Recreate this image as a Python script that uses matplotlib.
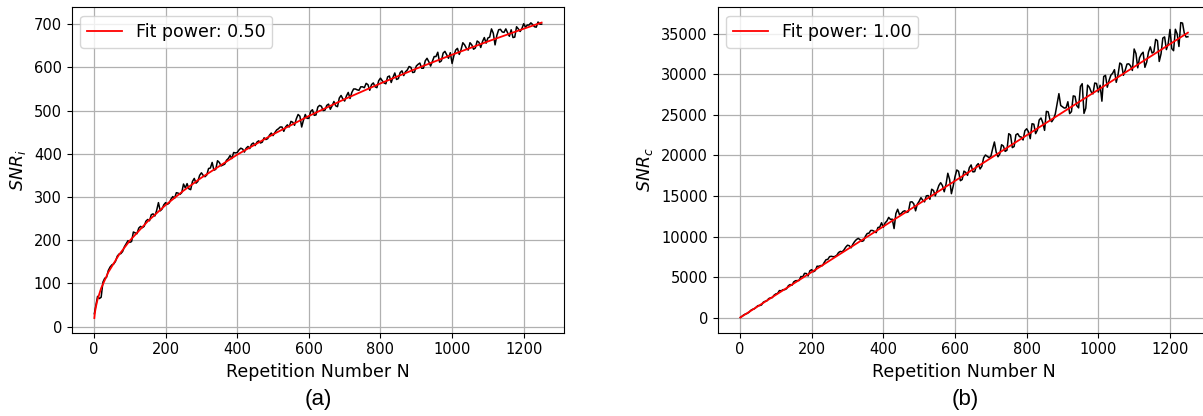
import matplotlib
matplotlib.use("Agg")
import matplotlib.pyplot as plt
import numpy as np

# ---------------- data ----------------
N_data = [1, 5] + list(range(10, 1251, 10))
N_mid = list(range(15, 1246, 10))

snr_i = [30, 48, 70, 68, 112, 130, 143, 151, 168, 174, 192, 195,
         219, 215, 232, 232, 248, 259, 256, 287, 272, 287,
         286, 301, 310, 306, 330, 331, 317, 343, 336, 356,
         347, 366, 380, 364, 380, 374, 385, 396, 403, 403,
         413, 404, 417, 422, 419, 430, 427, 433, 443, 442,
         455, 462, 452, 467, 475, 466, 491, 462, 491, 482,
         502, 490, 512, 500, 512, 503, 521, 509, 535, 522,
         542, 542, 550, 547, 555, 563, 547, 564, 553, 575,
         564, 578, 565, 587, 574, 592, 590, 602, 588, 603,
         610, 598, 621, 603, 625, 635, 615, 637, 621, 609,
         640, 630, 657, 644, 657, 642, 661, 646, 669, 668,
         689, 652, 687, 682, 689, 672, 669, 694, 683, 701,
         698, 703, 694, 705, 700]

snr_i_mid = [65, 103, 114, 138, 145, 163, 169, 185, 199, 197,
             217, 228, 229, 244, 245, 261, 269, 268, 282, 283,
             295, 297, 309, 310, 321, 319, 336, 332, 350, 350,
             351, 367, 362, 384, 372, 376, 389, 389, 402, 409,
             411, 413, 412, 425, 427, 425, 437, 435, 448, 449,
             458, 462, 462, 462, 473, 481, 487, 478, 482, 498,
             489, 508, 510, 501, 515, 511, 511, 529, 527, 534,
             528, 550, 548, 555, 553, 560, 560, 555, 569, 569,
             562, 580, 577, 572, 588, 581, 594, 600, 589, 607,
             598, 615, 613, 614, 625, 612, 633, 629, 634, 627,
             644, 641, 652, 640, 652, 645, 658, 660, 656, 670,
             679, 674, 688, 681, 680, 687, 670, 689, 690, 693,
             698, 699, 693, 700]

snr_c = [30, 150, 330, 520, 900, 1090, 1485, 1566, 2017, 2348, 2469, 2930,
         3341, 3452, 3573, 4084, 4415, 4576, 5077, 5458, 5139, 5920,
         5801, 6332, 6413, 7144, 7525, 7506, 7687, 8168, 8349, 8930,
         8611, 9392, 9773, 9404, 10035, 10416, 10747, 10478, 11159, 11140,
         11921, 12102, 10983, 13364, 12845, 13176, 13057, 14288, 13169, 14350,
         14481, 15012, 14593, 15674, 15655, 16636, 15517, 17798, 15279, 17360,
         18041, 17022, 17903, 18484, 17965, 18746, 18327, 19708, 19889, 19870,
         21651, 19832, 21313, 20494, 22675, 20956, 22537, 22318, 21899, 23280,
         22061, 23842, 23123, 24604, 23085, 25366, 24147, 25128, 27609, 25990,
         25871, 25152, 27333, 26114, 28495, 25176, 28657, 27838, 28919, 27800,
         26681, 29862, 29243, 30124, 29005, 31386, 29867, 31248, 31029, 33110,
         30791, 32472, 30853, 32734, 32615, 34296, 31577, 34458, 33039, 35520,
         32901, 34982, 36363, 35044, 34625]

snr_c_mid = [450, 660, 1030, 1280, 1495, 1906, 2077, 2448, 2769, 2990,
             3311, 3452, 3943, 3994, 4555, 4586, 5017, 5448, 5779, 5660,
             6341, 6422, 6803, 7184, 7565, 7546, 8027, 8108, 8689, 8870,
             9051, 9632, 9613, 9494, 10375, 10756, 10637, 11118, 11699, 11680,
             12361, 12142, 12823, 12704, 13085, 12966, 14247, 14028, 14009, 14790,
             14271, 15052, 15833, 15014, 16295, 16276, 16457, 17038, 16219, 18200,
             16881, 18062, 17543, 18824, 18005, 18986, 18667, 20048, 19729, 20810,
             20391, 20172, 21153, 20634, 22515, 21096, 22677, 22258, 23039, 22920,
             23901, 22682, 24363, 24044, 25425, 24406, 24487, 26368, 26149, 25830,
             26611, 25392, 27273, 25854, 28835, 25816, 28397, 27578, 28859, 28640,
             29721, 28402, 29883, 30564, 29945, 31226, 30507, 31288, 30469, 32550,
             32031, 32712, 31493, 33374, 32755, 34136, 32517, 34598, 33779, 33160,
             35541, 33422, 36303, 34584]

N_fit_a = [1, 2, 3, 5, 10, 20, 40, 70, 100, 150, 200, 250, 300, 400,
           500, 600, 700, 800, 900, 1000, 1100, 1200, 1250]
fit_a = [19.9, 28.1, 34.5, 44.5, 62.9, 89.0, 125.9, 166.5, 199.0, 243.7,
         281.4, 314.7, 344.7, 398.0, 445.0, 487.5, 526.5, 562.9, 597.0,
         629.3, 660.0, 689.4, 703.6]

N_fit_c = [1, 1250]
fit_c = [28, 35125]

labels_fit = ["Fit power: 0.50", "Fit power: 1.00"]
ylabels = ["$SNR_i$", "$SNR_c$"]
xlabel = "Repetition Number N"
panel_tags = ["(a)", "(b)"]


def merged(n1, y1, n2, y2):
    n = np.array(list(n1) + list(n2), dtype=float)
    y = np.array(list(y1) + list(y2), dtype=float)
    order = np.argsort(n, kind="stable")
    return n[order], y[order]


# ---------------- plot ----------------
plt.rcParams['font.family'] = ['DejaVu Sans']
W, H = 1203, 416
fig = plt.figure(figsize=(W / 100, H / 100), dpi=100)

ax1 = fig.add_axes([71.6 / W, (H - 332.7) / H, 492.4 / W, 325.4 / H])
ax2 = fig.add_axes([717.6 / W, (H - 332.7) / H, 492.7 / W, 325.4 / H])

series = [(ax1, merged(N_data, snr_i, N_mid, snr_i_mid), N_fit_a, fit_a, (-14, 739)),
          (ax2, merged(N_data, snr_c, N_mid, snr_c_mid), N_fit_c, fit_c, (-1850, 38250))]

for i, (ax, (nx, y), nf, yf, ylim) in enumerate(series):
    ax.plot(nx, y, color='black', lw=1.1, zorder=2)
    ax.plot(nf, yf, color='red', lw=1.3, label=labels_fit[i], zorder=3)
    ax.set_xlim(-62.5, 1312.5)
    ax.set_ylim(*ylim)
    ax.set_xticks([0, 200, 400, 600, 800, 1000, 1200])
    ax.grid(True, color='#b0b0b0', lw=0.9)
    ax.set_axisbelow(True)
    ax.tick_params(labelsize=10.5)
    ax.set_xlabel(xlabel, fontsize=12.5)
    ax.set_ylabel(ylabels[i], fontsize=12.5)
    ax.legend(loc='upper left', fontsize=12.5, handlelength=2.0)

fig.text(318 / W, 1 - 400 / H, panel_tags[0], ha='center', va='center',
         fontsize=16, family=['Liberation Sans'])
fig.text(965 / W, 1 - 400 / H, panel_tags[1], ha='center', va='center',
         fontsize=16, family=['Liberation Sans'])

fig.savefig("out.png", dpi=100)
